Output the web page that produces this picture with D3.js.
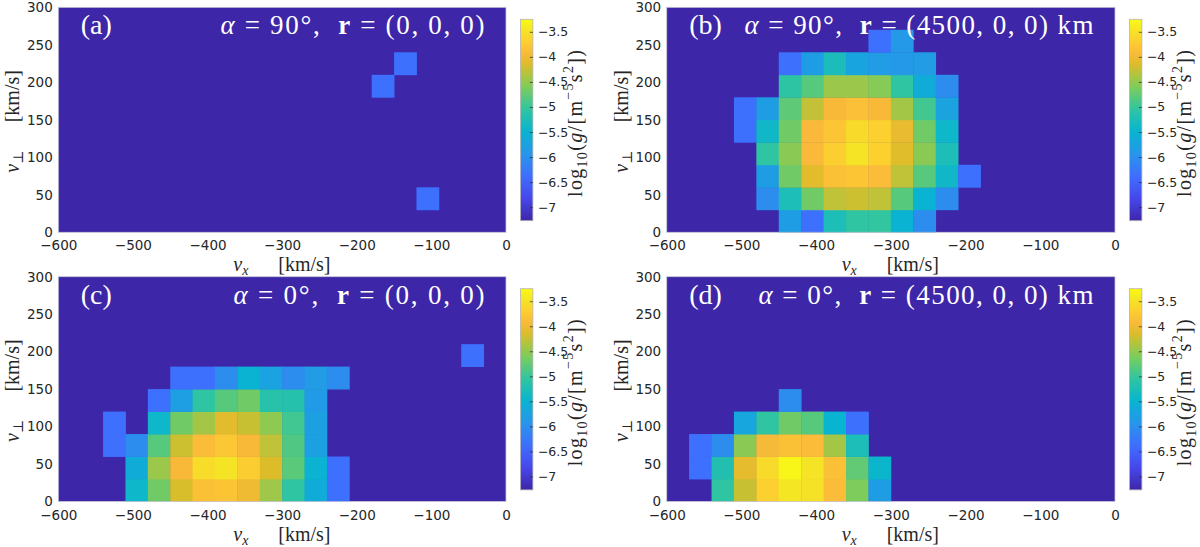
<!DOCTYPE html>
<html>
<head>
<meta charset="utf-8">
<script src="https://cdn.jsdelivr.net/npm/d3@7"></script>
<style>
  body { margin: 0; background: #fff; }
  text { white-space: pre; }
</style>
</head>
<body>
<script>
// colour limits of the log10(g) maps
var cmin = -7.27, cmax = -3.25;
var binSize = 30; // km/s

var vxTicks = [-600, -500, -400, -300, -200, -100, 0];
var vperpTicks = [0, 50, 100, 150, 200, 250, 300];
var cbarTicks = [-7, -6.5, -6, -5.5, -5, -4.5, -4, -3.5];

// each row: [v_perp bin start, first v_x bin start, log10 g of consecutive v_x bins]
var cellsA = [
  [30,  -120, [-6.35]],
  [180, -180, [-6.35]],
  [210, -150, [-6.35]]
];
var cellsB = [
  [0,   -450, [-5.82, -6.35, -5.26, -5.06, -5.04, -5.50, -6.03]],
  [30,  -480, [-6.03, -5.26, -4.68, -4.28, -4.22, -4.28, -4.82, -5.50, -6.03]],
  [60,  -480, [-5.82, -4.68, -4.10, -3.85, -3.80, -3.90, -4.28, -4.82, -5.40, -6.35]],
  [90,  -480, [-5.06, -4.54, -3.93, -3.70, -3.48, -3.68, -4.12, -4.54, -5.26]],
  [120, -510, [-6.35, -5.40, -4.68, -3.93, -3.80, -3.57, -3.68, -4.05, -4.68, -5.42]],
  [150, -510, [-6.35, -5.82, -4.78, -4.27, -3.95, -3.86, -3.95, -4.42, -4.94, -5.74]],
  [180, -450, [-5.08, -4.82, -4.46, -4.46, -4.56, -5.06, -5.62, -6.03]],
  [210, -450, [-6.35, -5.82, -5.28, -5.72, -5.84, -5.88, -5.84]],
  [240, -330, [-6.35, -5.88]]
];
var cellsC = [
  [0,   -510, [-5.42, -4.68, -4.16, -3.85, -3.82, -4.02, -4.44, -5.06, -5.62, -6.35]],
  [30,  -510, [-5.60, -4.46, -3.95, -3.55, -3.47, -3.72, -4.14, -4.80, -5.50, -6.35]],
  [60,  -540, [-6.35, -6.03, -4.82, -4.22, -3.90, -3.78, -3.95, -4.28, -4.86, -5.78]],
  [90,  -540, [-6.35, null, -5.42, -4.68, -4.42, -4.10, -4.24, -4.52, -4.95, -5.78]],
  [120, -480, [-6.35, -5.80, -5.06, -4.82, -4.68, -5.14, -5.16, -5.86]],
  [150, -450, [-6.35, -6.35, -6.03, -5.50, -5.76, -6.03, -5.84, -6.03]],
  [180, -60,  [-6.35]]
];
var cellsD = [
  [0,   -540, [-5.06, -4.24, -3.68, -3.45, -3.49, -3.90, -4.60, -5.82]],
  [30,  -570, [-6.35, -5.20, -4.08, -3.57, -3.30, -3.48, -3.85, -4.76, -5.45]],
  [60,  -570, [-6.35, -6.03, -4.54, -3.97, -3.85, -3.90, -4.42, -5.26]],
  [90,  -510, [-5.70, -5.06, -4.68, -4.82, -5.48, -6.35]],
  [120, -450, [-6.03]]
];

// parula-like colormap
var parula = [
  [0.000, "#3e26a8"], [0.111, "#4747eb"], [0.222, "#3e6ffe"],
  [0.333, "#2796eb"], [0.444, "#08b4d0"], [0.556, "#31c69f"],
  [0.667, "#80cc59"], [0.778, "#dcbd29"], [0.830, "#fab93a"],
  [0.889, "#fccf30"], [0.944, "#f5e325"], [1.000, "#f9fa14"]
];
var color = d3.scaleLinear()
    .domain(parula.map(function(s){ return cmin + s[0] * (cmax - cmin); }))
    .range(parula.map(function(s){ return s[1]; }))
    .clamp(true);

var panels = [
  {tag: "(a)", alpha: "90", r: "(0, 0, 0)", cells: cellsA, x0: 58.3, x1: 506, y0: 7.3, y1: 232.3, tlen: 264},
  {tag: "(b)", alpha: "90", r: "(4500, 0, 0) km", cells: cellsB, x0: 666.7, x1: 1115, y0: 7.3, y1: 232.3, tlen: 349},
  {tag: "(c)", alpha: "0", r: "(0, 0, 0)", cells: cellsC, x0: 58.3, x1: 506, y0: 276.7, y1: 501.5, tlen: 251},
  {tag: "(d)", alpha: "0", r: "(4500, 0, 0) km", cells: cellsD, x0: 666.7, x1: 1115, y0: 276.7, y1: 501.5, tlen: 335}
];

var svg = d3.select("body").append("svg")
    .attr("width", 1200)
    .attr("height", 547);

var defs = svg.append("defs");
var grad = defs.append("linearGradient")
    .attr("id", "cbar")
    .attr("x1", 0).attr("y1", 1).attr("x2", 0).attr("y2", 0);
d3.range(0, 1.0001, 0.02).forEach(function(t){
  grad.append("stop")
      .attr("offset", t)
      .attr("stop-color", color(cmin + t * (cmax - cmin)));
});

var serif = "'Liberation Serif', 'DejaVu Serif', serif";
var sans = "'DejaVu Sans', sans-serif";

panels.forEach(function(p){
  var g = svg.append("g");
  var x = d3.scaleLinear().domain([-600, 0]).range([p.x0, p.x1]);
  var y = d3.scaleLinear().domain([0, 300]).range([p.y1, p.y0]);

  // empty bins sit at the bottom of the colour range
  g.append("rect")
      .attr("x", p.x0).attr("y", p.y0)
      .attr("width", p.x1 - p.x0).attr("height", p.y1 - p.y0)
      .attr("fill", color(cmin));

  var cells = [];
  p.cells.forEach(function(row){
    row[2].forEach(function(v, i){
      if (v !== null) cells.push({vp: row[0], vx: row[1] + i * binSize, v: v});
    });
  });

  g.selectAll("rect.cell")
    .data(cells)
    .enter()
      .append("rect")
      .attr("class", "cell")
      .attr("x", function(d){ return x(d.vx); })
      .attr("y", function(d){ return y(d.vp + binSize); })
      .attr("width", function(d){ return x(d.vx + binSize) - x(d.vx) + 0.4; })
      .attr("height", function(d){ return y(d.vp) - y(d.vp + binSize) + 0.4; })
      .attr("fill", function(d){ return color(d.v); });

  g.append("rect")
      .attr("x", p.x0).attr("y", p.y0)
      .attr("width", p.x1 - p.x0).attr("height", p.y1 - p.y0)
      .attr("fill", "none")
      .attr("stroke", "#c8c8d4")
      .attr("stroke-width", 0.8);

  // axes
  var xa = g.append("g")
      .attr("transform", "translate(0," + p.y1 + ")")
      .call(d3.axisBottom(x).tickValues(vxTicks).tickSize(0).tickPadding(8.5).tickFormat(d3.format("d")));
  var ya = g.append("g")
      .attr("transform", "translate(" + p.x0 + ",0)")
      .call(d3.axisLeft(y).tickValues(vperpTicks).tickSize(0).tickPadding(5.5).tickFormat(d3.format("d")));
  [xa, ya].forEach(function(a){
    a.select(".domain").remove();
    a.selectAll("text")
        .attr("fill", "#262626")
        .style("font-family", sans)
        .style("font-size", "13.5px");
  });

  // axis labels: symbol and unit placed apart, as in the figure
  var xl = g.append("text")
      .attr("x", p.x0 + 175)
      .attr("y", p.y1 + 39)
      .attr("fill", "#262626")
      .style("font-family", serif)
      .style("font-size", "20px");
  xl.append("tspan").attr("font-style", "italic").text("v");
  xl.append("tspan").attr("font-style", "italic").attr("font-size", "14px").attr("dy", 4).text("x");
  g.append("text")
      .attr("x", p.x0 + 220)
      .attr("y", p.y1 + 39)
      .attr("fill", "#262626")
      .style("font-family", serif)
      .style("font-size", "20px")
      .text("[km/s]");

  var cy = (p.y0 + p.y1) / 2;
  var yl = g.append("text")
      .attr("transform", "translate(" + (p.x0 - 39) + "," + (cy + 53) + ") rotate(-90)")
      .attr("fill", "#262626")
      .style("font-family", serif)
      .style("font-size", "20px");
  yl.append("tspan").attr("font-style", "italic").text("v");
  yl.append("tspan").attr("font-size", "14px").attr("dy", 4).text("\u22a5");
  g.append("text")
      .attr("transform", "translate(" + (p.x0 - 39) + "," + (cy + 2.5) + ") rotate(-90)")
      .attr("fill", "#262626")
      .style("font-family", serif)
      .style("font-size", "20px")
      .text("[km/s]");

  // panel titles
  g.append("text")
      .attr("x", p.x0 + 22.5)
      .attr("y", p.y0 + 27)
      .attr("fill", "#fff")
      .style("font-family", serif)
      .style("font-size", "28px")
      .text(p.tag);
  var t = g.append("text")
      .attr("x", p.x1 - 21.5)
      .attr("y", p.y0 + 27)
      .attr("text-anchor", "end")
      .attr("textLength", p.tlen)
      .attr("lengthAdjust", "spacing")
      .attr("fill", "#fff")
      .style("font-family", serif)
      .style("font-size", "27px");
  t.append("tspan").attr("font-style", "italic").text("\u03b1");
  t.append("tspan").text(" = " + p.alpha + "\u00b0,  ");
  t.append("tspan").attr("font-weight", "bold").text("r");
  t.append("tspan").text(" = " + p.r);

  // colourbar
  var cbx = p.x1 + 14.5, cbw = 12.4;
  var cbTop = p.y0 + 12, cbBot = p.y1 - 11.6;
  var cs = d3.scaleLinear().domain([cmin, cmax]).range([cbBot, cbTop]);
  var cb = g.append("g");
  cb.append("rect")
      .attr("x", cbx).attr("y", cbTop)
      .attr("width", cbw).attr("height", cbBot - cbTop)
      .attr("fill", "url(#cbar)")
      .attr("stroke", "#b4b4b4")
      .attr("stroke-width", 0.8);
  var ca = cb.append("g")
      .attr("transform", "translate(" + (cbx + cbw) + ",0)")
      .call(d3.axisRight(cs).tickValues(cbarTicks).tickSizeInner(-3).tickSizeOuter(0).tickPadding(5).tickFormat(d3.format("")));
  ca.select(".domain").remove();
  ca.selectAll("line").attr("stroke", "#262626").attr("stroke-width", 0.7);
  ca.selectAll("text")
      .attr("fill", "#262626")
      .style("font-family", sans)
      .style("font-size", "12.5px");

  var cl = cb.append("text")
      .attr("transform", "translate(" + (cbx + cbw + 49) + "," + ((cbTop + cbBot) / 2 + 3.5) + ") rotate(-90)")
      .attr("text-anchor", "middle")
      .attr("textLength", 147)
      .attr("lengthAdjust", "spacing")
      .attr("fill", "#262626")
      .style("font-family", serif)
      .style("font-size", "20px");
  cl.append("tspan").text("log");
  cl.append("tspan").attr("font-size", "14px").attr("dy", 5).text("10");
  cl.append("tspan").attr("dy", -5).text("(");
  cl.append("tspan").attr("font-style", "italic").text("g");
  cl.append("tspan").text("/[m");
  cl.append("tspan").attr("font-size", "14px").attr("dy", -9).text("\u22125");
  cl.append("tspan").attr("dy", 9).text("s");
  cl.append("tspan").attr("font-size", "14px").attr("dy", -9).text("2");
  cl.append("tspan").attr("dy", 9).text("])");
});
</script>
</body>
</html>
